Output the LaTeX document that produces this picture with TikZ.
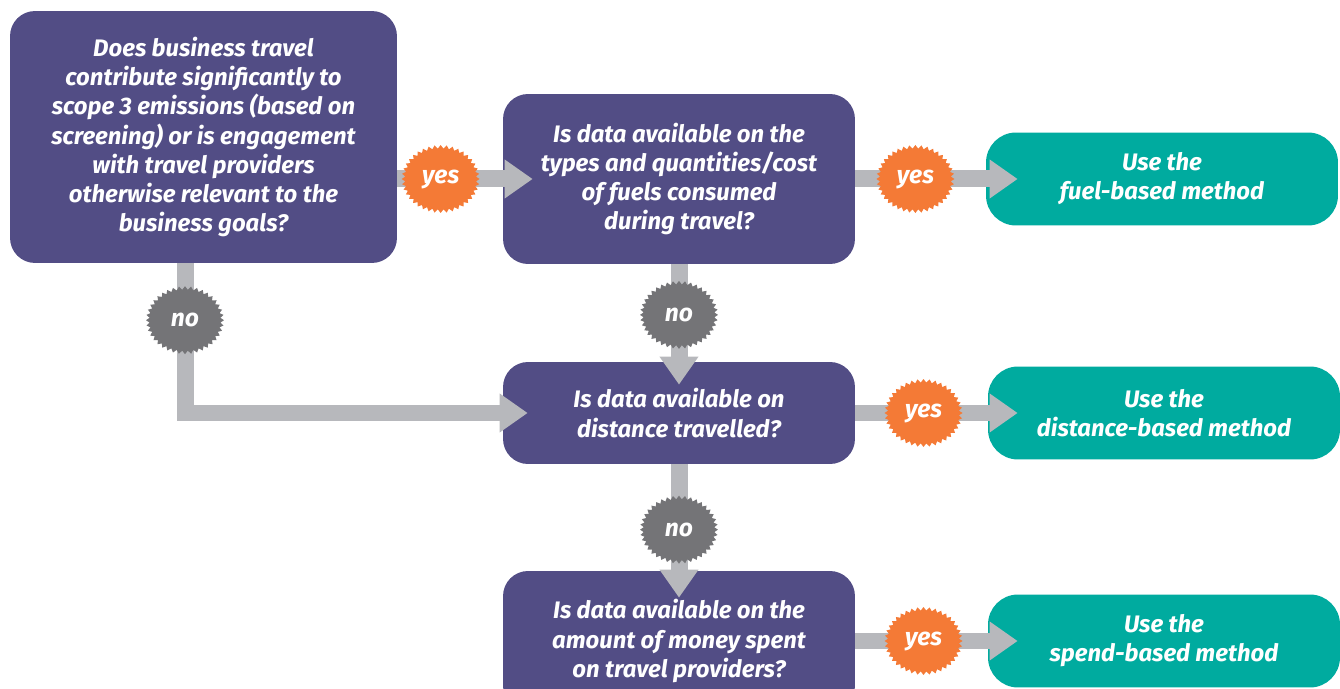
\documentclass[tikz,border=0pt]{standalone}
\usepackage{fontspec}
\setmainfont{Fira Sans}
\usetikzlibrary{arrows.meta,shapes.symbols}
\definecolor{QuestionPurple}{HTML}{524D85}
\definecolor{MethodTeal}{HTML}{00AB9F}
\definecolor{YesOrange}{HTML}{F47A36}
\definecolor{NoGray}{HTML}{747477}
\definecolor{ArrowGray}{HTML}{B7B8BC}

\begin{document}
\begin{tikzpicture}[x=0.02cm,y=-0.02cm]
        \tikzset{question/.style = {rounded corners=0.5cm,fill=QuestionPurple,text=white,align=center,
                 font=\fontsize{13.6}{16.6}\selectfont\bfseries\itshape,inner sep=0pt}}
        \tikzset{method/.style = {rounded corners=0.6cm,fill=MethodTeal,text=white,align=center,
                 font=\fontsize{13.6}{16.6}\selectfont\bfseries\itshape,inner sep=0pt,
                 minimum width=7.04cm,minimum height=1.86cm}}
        \tikzset{burst/.style = {starburst,starburst points=40,starburst point height=0.07cm,
                 random starburst=0,minimum width=1.56cm,minimum height=1.36cm,inner sep=0pt,
                 text=white,font=\fontsize{14}{16}\selectfont\bfseries\itshape}}
        \tikzset{yesburst/.style = {burst,fill=YesOrange}}
        \tikzset{noburst/.style = {burst,fill=NoGray}}
        \tikzset{flow/.style = {line width=0.34cm,draw=ArrowGray,-{Triangle[length=0.56cm,width=0.74cm]}}}
        \clip (0,0) rectangle (1340,689);
        % questions
        \node[question,minimum width=7.74cm,minimum height=5.04cm] (q1) at (203.5,137)
            {Does business travel\\contribute significantly to\\scope 3 emissions (based on\\screening) or is engagement\\with travel providers\\otherwise relevant to the\\business goals?};
        \node[question,minimum width=7.04cm,minimum height=3.4cm] (q2) at (679,179)
            {Is data available on the\\types and quantities/cost\\of fuels consumed\\during travel?};
        \node[question,minimum width=7.04cm,minimum height=2.04cm] (q3) at (679,413)
            {Is data available on\\distance travelled?};
        \node[question,minimum width=7.04cm,minimum height=2.8cm] (q4) at (679,641)
            {Is data available on the\\amount of money spent\\on travel providers?};
        % methods
        \node[method] (r1) at (1162,179) {Use the\\fuel-based method};
        \node[method] (r2) at (1164,413) {Use the\\distance-based method};
        \node[method] (r3) at (1164,641) {Use the\\spend-based method};
        %edges
        \draw[flow] (q1.east |- q2.west) -- node[pos=0.32,yesburst] {yes} ([xshift=0.6cm]q2.west);
        \draw[flow] (q2.east) -- node[pos=0.37,yesburst] {yes} ([xshift=0.64cm]r1.west);
        \draw[flow] (q3.east) -- node[pos=0.42,yesburst] {yes} ([xshift=0.6cm]r2.west);
        \draw[flow] (q4.east) -- node[pos=0.42,yesburst] {yes} ([xshift=0.6cm]r3.west);
        \draw[flow] ([xshift=-0.37cm]q1.south) |- node[pos=0.19,noburst] {no} ([xshift=0.5cm]q3.west);
        \draw[flow] (q2.south) -- node[pos=0.42,noburst] {no} ([yshift=-0.46cm]q3.north);
        \draw[flow] (q3.south) -- node[pos=0.49,noburst] {no} ([yshift=-0.54cm]q4.north);
\end{tikzpicture}
\end{document}
